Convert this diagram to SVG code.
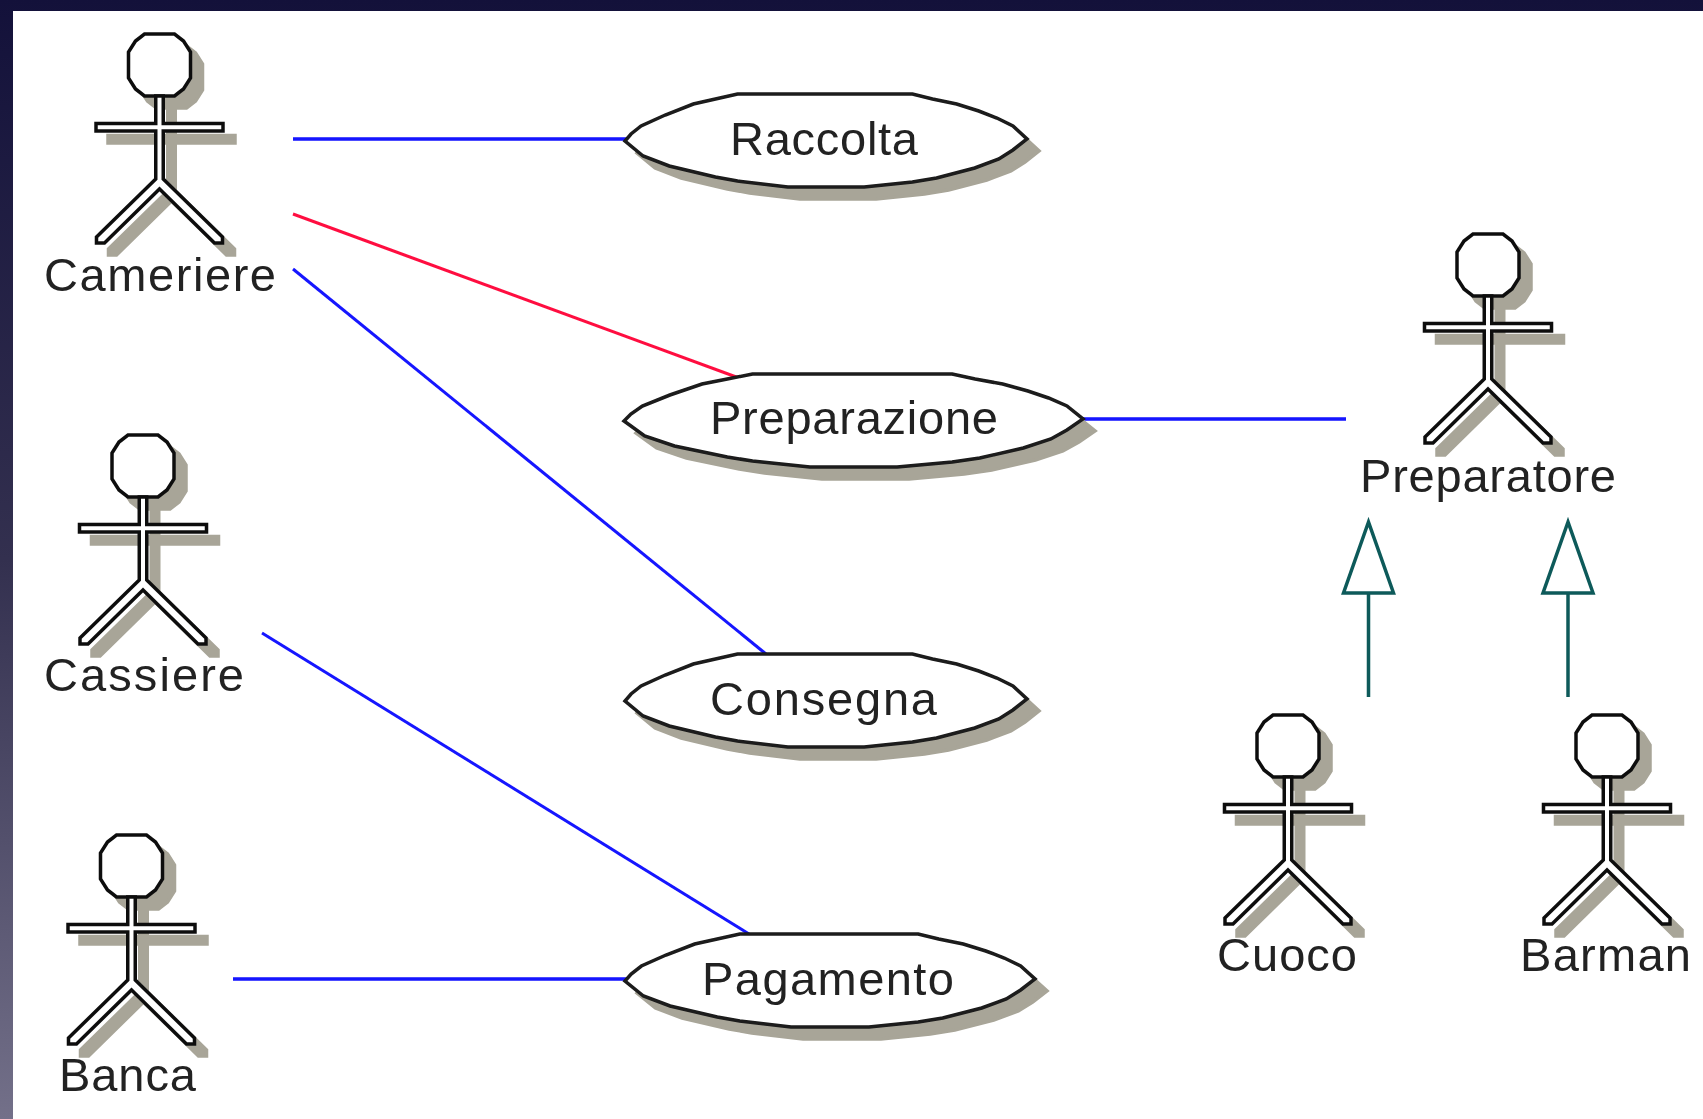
<svg xmlns="http://www.w3.org/2000/svg" width="1703" height="1119" viewBox="0 0 1703 1119">
<style>
text{font-family:"Liberation Sans",Arial,sans-serif;font-size:47px;fill:#222;}
.fig{fill:#fff;stroke:#111;stroke-width:3.5;stroke-linejoin:miter;}
.sh{fill:#a8a598;stroke:#a8a598;stroke-width:3.5;}
.oval{fill:#fff;stroke:#1a1a1a;stroke-width:3.500;}
.assoc{fill:none;stroke:#1414ff;stroke-width:3.500;}
.red{fill:none;stroke:#ff1040;stroke-width:3;}
.gen{fill:none;stroke:#0f5a5a;stroke-width:3.500;}
.head{fill:#fff;stroke:#0f5a5a;stroke-width:3.500;}
</style>
<defs>
<linearGradient id="bg" x1="0" y1="0" x2="0" y2="1">
<stop offset="0" stop-color="#13113a"/><stop offset="0.5" stop-color="#33304f"/><stop offset="1" stop-color="#737089"/>
</linearGradient>
<filter id="soft" x="-5%" y="-5%" width="110%" height="110%"><feGaussianBlur stdDeviation="0.7"/></filter>
<path id="body" d="M-3.750,31V58.500H-63.500V66H-3.750V114L-63,172V178H-55L0,124L55,178H63V172L3.750,114V66H63.500V58.500H3.750V31Z"/>
<polygon id="skull" points="-15,-31 15,-31 24,-24 31,-13 31,13 24,24 15,31 -15,31 -24,24 -31,13 -31,-13 -24,-24"/>
<g id="actor">
<g class="sh" transform="translate(12,12)"><use href="#skull"/><use href="#body"/></g>
<g class="fig"><use href="#skull"/><use href="#body"/></g>
</g>
<polygon id="lens" vector-effect="non-scaling-stroke" points="-.44,-45 .43,-45 .53,-40 .65,-35 .76,-28 .85,-21 .93,-13 1,0 .93,11 .86,20 .74,29 .55,39 .43,43 .19,48 -.19,48 -.44,42 -.55,38 -.78,27 -.91,17 -1,2 -.97,-5 -.92,-13 -.8,-24 -.66,-35 -.55,-40"/>
</defs>
<rect width="1703" height="1119" fill="url(#bg)"/>
<rect x="13" y="11" width="1690" height="1108" fill="#fff"/>
<g filter="url(#soft)">
<g id="connectors">
<path class="assoc" d="M293,139H627"/>
<path class="red" d="M293,214L739,378"/>
<path class="assoc" style="stroke-width:3" d="M293,269L766,654"/>
<path class="assoc" style="stroke-width:3" d="M262,633L749,934"/>
<path class="assoc" d="M233,979H627"/>
<path class="assoc" d="M1083,419H1346"/>
<path class="gen" d="M1368.500,593V697"/>
<path class="head" d="M1368.500,522L1343.500,593H1393.500Z"/>
<path class="gen" d="M1568,593V697"/>
<path class="head" d="M1568,522L1543,593H1593Z"/>
</g>
<g id="actor-cameriere"><use href="#actor" x="159.500" y="65"/><text x="44" y="291" textLength="232" lengthAdjust="spacing">Cameriere</text></g>
<g id="actor-cassiere"><use href="#actor" x="143" y="466"/><text x="44" y="691" textLength="200" lengthAdjust="spacing">Cassiere</text></g>
<g id="actor-banca"><use href="#actor" x="131.500" y="866"/><text x="59" y="1091" textLength="137" lengthAdjust="spacing">Banca</text></g>
<g id="actor-preparatore"><use href="#actor" x="1488" y="265"/><text x="1360" y="492" textLength="256" lengthAdjust="spacing">Preparatore</text></g>
<g id="actor-cuoco"><use href="#actor" x="1288" y="746"/><text x="1217" y="971" textLength="140" lengthAdjust="spacing">Cuoco</text></g>
<g id="actor-barman"><use href="#actor" x="1607" y="746"/><text x="1520" y="971" textLength="171" lengthAdjust="spacing">Barman</text></g>
<g id="uc-raccolta"><use href="#lens" class="sh" transform="translate(838,151) scale(201,1)"/><use href="#lens" class="oval" transform="translate(826,139) scale(201,1)"/><text x="730" y="155" textLength="188" lengthAdjust="spacing">Raccolta</text></g>
<g id="uc-preparazione"><use href="#lens" class="sh" transform="translate(865.500,431) scale(229.500,1)"/><use href="#lens" class="oval" transform="translate(853.500,419) scale(229.500,1)"/><text x="710" y="434" textLength="288" lengthAdjust="spacing">Preparazione</text></g>
<g id="uc-consegna"><use href="#lens" class="sh" transform="translate(838,711) scale(201,1)"/><use href="#lens" class="oval" transform="translate(826,699) scale(201,1)"/><text x="710" y="715" textLength="227" lengthAdjust="spacing">Consegna</text></g>
<g id="uc-pagamento"><use href="#lens" class="sh" transform="translate(842,991) scale(205,1)"/><use href="#lens" class="oval" transform="translate(830,979) scale(205,1)"/><text x="702" y="995" textLength="252" lengthAdjust="spacing">Pagamento</text></g>
</g>
</svg>
